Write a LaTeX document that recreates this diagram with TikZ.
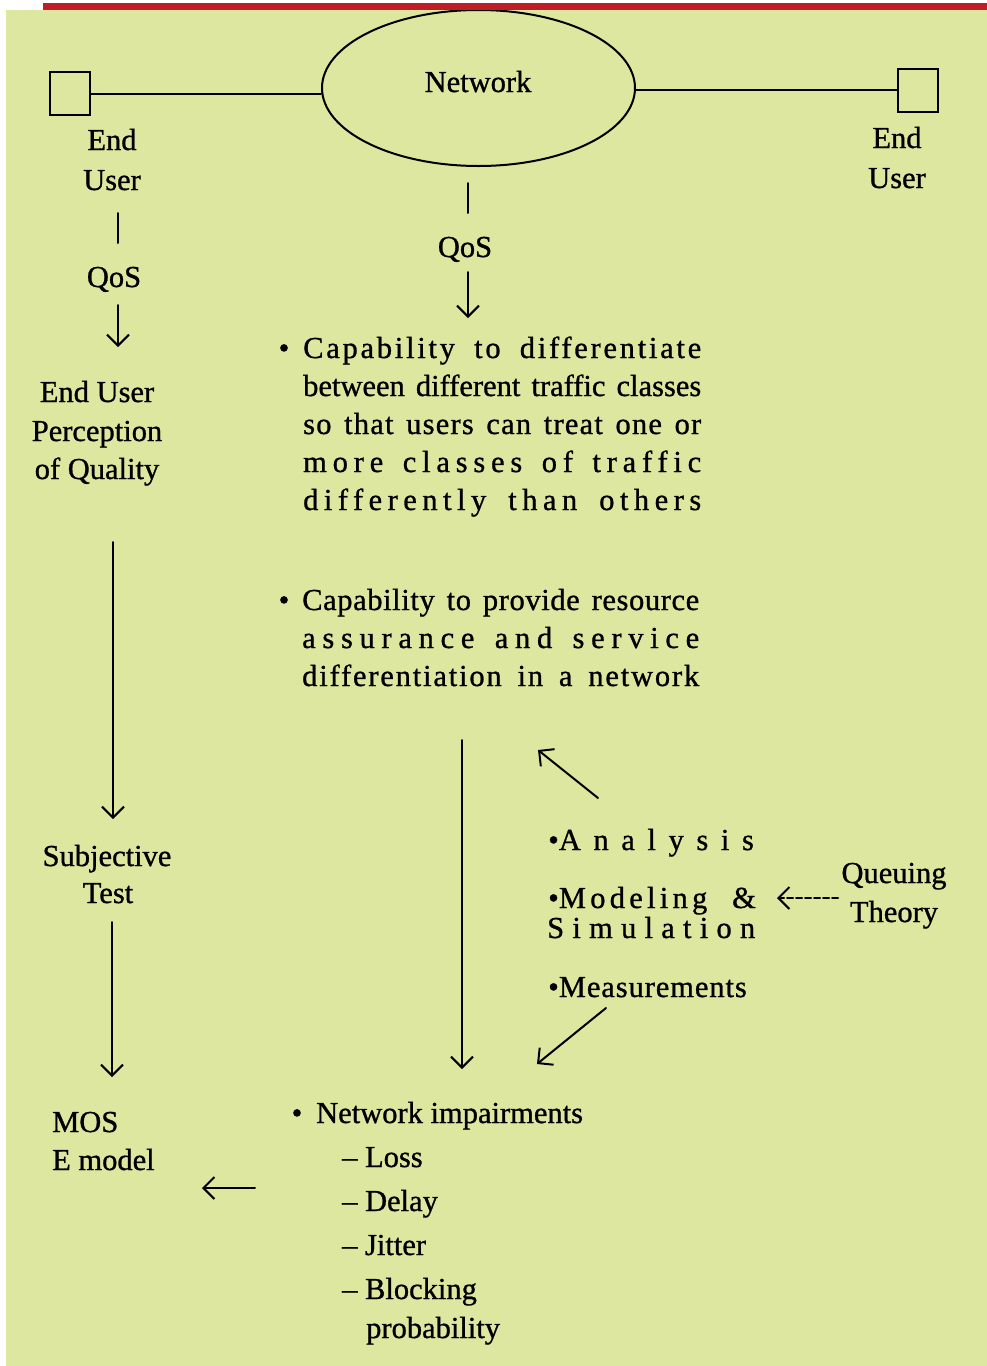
\documentclass[tikz,border=0pt]{standalone}
\usepackage{fontspec}
\setmainfont[FakeBold=0.9]{Liberation Serif}
\usetikzlibrary{arrows.meta,shapes.geometric}
\definecolor{bg}{RGB}{221,231,160}
\definecolor{redbar}{RGB}{190,30,38}
\newcommand\jline[3]{\makebox[#1][s]{\addfontfeature{LetterSpace=#2}#3}}
\begin{document}
\begin{tikzpicture}[x=1pt,y=-1pt,
  txt/.style={inner sep=0pt, font=\fontsize{30.5}{39}\selectfont, anchor=base},
  txtw/.style={txt, anchor=base west},
  ln/.style={line width=2pt, line cap=round},
  arr/.style={ln, -{Straight Barb[length=11pt,width=22pt,line width=2pt]}},
  box/.style={draw, line width=2pt, minimum width=40pt, minimum height=43pt, inner sep=0pt}]
\useasboundingbox (0,0) rectangle (987,1366);
\fill[white] (0,0) rectangle (987,1366);
\fill[bg] (6,10) rectangle (987,1366);
% network and end users
\node[draw, ellipse, line width=2pt, minimum width=313pt, minimum height=156pt, inner sep=0pt] (net) at (478.5,88) {};
\fill[redbar] (43,3) rectangle (987,10);
\node[txt] (netlbl) at (478,92) {Network};
\node[box] (sqL) at (70,93.5) {};
\node[box] (sqR) at (918,90) {};
\draw[ln] (sqL.east) -- (sqL.east -| net.west);
\draw[ln] (sqR.west) -- (sqR.west -| net.east);
\node[txt] (endL) at (112,150) {End};
\node[txt] (userL) at (112,190) {User};
\node[txt] (endR) at (897,148) {End};
\node[txt] (userR) at (897,188) {User};
% left column
\coordinate (tLa) at (118,213); \coordinate (tLb) at (118,243);
\draw[ln] (tLa) -- (tLb);
\node[txt] (qosL) at (114,287) {QoS};
\coordinate (aLa) at (118,305); \coordinate (aLb) at (118,347);
\draw[arr] (aLa) -- (aLb);
\node[txt] (perc1) at (97,402) {End User};
\node[txt] (perc2) at (97,441) {Perception};
\node[txt] (perc3) at (97,479) {of Quality};
\coordinate (bLa) at (113,542); \coordinate (bLb) at (113,819);
\draw[arr] (bLa) -- (bLb);
\node[txt] (subj1) at (107,866) {Subjective};
\node[txt] (subj2) at (108,903) {Test};
\coordinate (cLa) at (112,922); \coordinate (cLb) at (112,1077);
\draw[arr] (cLa) -- (cLb);
\node[txtw] (mos1) at (52,1132) {MOS};
\node[txtw] (mos2) at (52,1170) {E model};
% center column
\coordinate (tCa) at (468,183); \coordinate (tCb) at (468,213);
\draw[ln] (tCa) -- (tCb);
\node[txt] (qosC) at (465,257) {QoS};
\coordinate (aCa) at (468,272); \coordinate (aCb) at (468,318);
\draw[arr] (aCa) -- (aCb);
\node[txt] (b1) at (284,358) {•};
\node[txtw] (c1) at (303,358) {\jline{398pt}{9}{Capability to differentiate}};
\node[txtw] (c2) at (303,396) {\jline{398pt}{0}{between different traffic classes}};
\node[txtw] (c3) at (303,434) {\jline{398pt}{4}{so that users can treat one or}};
\node[txtw] (c4) at (303,472) {\jline{398pt}{19}{more classes of traffic}};
\node[txtw] (c5) at (303,510) {\jline{398pt}{18}{differently than others}};
\node[txt] (b2) at (284,610) {•};
\node[txtw] (d1) at (302,610) {\jline{397pt}{2}{Capability to provide resource}};
\node[txtw] (d2) at (302,648) {\jline{397pt}{22}{assurance and service}};
\node[txtw] (d3) at (302,686) {\jline{397pt}{6}{differentiation in a network}};
\coordinate (mCa) at (462,740); \coordinate (mCb) at (462,1069);
\draw[arr] (mCa) -- (mCb);
% methods
\coordinate (uA) at (598,798); \coordinate (uB) at (538,750);
\draw[arr] (uA) -- (uB);
\node[txtw] (an) at (548,850) {•\makebox[195pt][s]{A n a l y s i s}};
\node[txtw] (mo) at (548,908) {•\jline{197pt}{14}{Modeling \&}};
\node[txtw] (si) at (547,938) {\makebox[208pt][s]{S i m u l a t i o n}};
\node[txtw] (me) at (548,997) {•\jline{194pt}{3}{Measurements}};
\coordinate (dA) at (606,1008); \coordinate (dB) at (537,1064);
\draw[arr] (dA) -- (dB);
\node[txt] (q1) at (894,883) {Queuing};
\node[txt] (q2) at (894,922) {Theory};
\coordinate (qa) at (838,898); \coordinate (qb) at (777,898);
\draw[arr, dash pattern=on 6pt off 3pt] (qa) -- (qb);
% impairments
\node[txt] (b3) at (297,1123) {•};
\node[txtw] (ni) at (316,1123) {Network impairments};
\node[txtw] (l1) at (342,1167) {– Loss};
\node[txtw] (l2) at (342,1211) {– Delay};
\node[txtw] (l3) at (342,1255) {– Jitter};
\node[txtw] (l4) at (342,1299) {– Blocking};
\node[txtw] (l5) at (366,1338) {probability};
\coordinate (hA) at (255,1188); \coordinate (hB) at (202,1188);
\draw[arr] (hA) -- (hB);
\end{tikzpicture}
\end{document}
